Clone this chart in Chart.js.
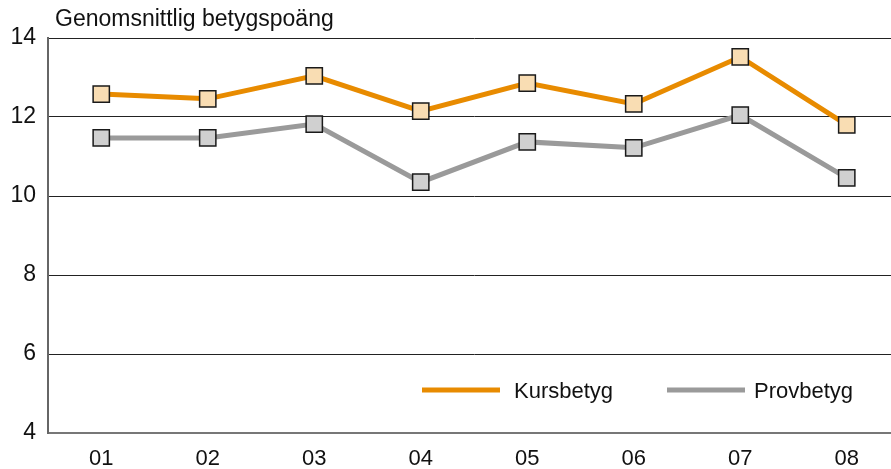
<!DOCTYPE html>
<html>
<head>
<meta charset="utf-8">
<script src="https://cdn.jsdelivr.net/npm/chart.js@4"></script>
<style>
  html, body { margin: 0; padding: 0; background: #fff; overflow: hidden; }
  #wrap { width: 891px; height: 469px; overflow: hidden; }
</style>
</head>
<body>
<div id="wrap"><canvas id="gradesChart" width="913" height="469"></canvas></div>
<script>
const FONT = "'Liberation Sans', Arial, sans-serif";

// data
const categories = ["01", "02", "03", "04", "05", "06", "07", "08"];
const kursbetyg = [12.58, 12.46, 13.04, 12.15, 12.86, 12.33, 13.52, 11.8];
const provbetyg = [11.47, 11.47, 11.82, 10.35, 11.37, 11.22, 12.05, 10.46];
const yTicks = [4, 6, 8, 10, 12, 14];
const axisTitle = "Genomsnittlig betygspoäng";

// title + in-plot legend, drawn on the canvas
const extras = {
    id: "extras",
    afterDraw(chart) {
        const ctx = chart.ctx;
        ctx.save();
        ctx.fillStyle = "#111";
        ctx.font = "23px " + FONT;
        ctx.textBaseline = "middle";
        ctx.textAlign = "left";
        ctx.fillText(axisTitle, 55, 20);

        const spots = [422, 667];
        chart.data.datasets.forEach((ds, i) => {
            const x = spots[i];
            const y = 390;
            ctx.strokeStyle = ds.borderColor;
            ctx.lineWidth = 5;
            ctx.beginPath();
            ctx.moveTo(x, y);
            ctx.lineTo(x + 78, y);
            ctx.stroke();
            ctx.fillStyle = "#111";
            ctx.font = "22px " + FONT;
            ctx.fillText(ds.label, x + (i === 0 ? 92 : 87), y + 2);
        });
        ctx.restore();
    },
};

const ctx = document.getElementById("gradesChart").getContext("2d");
new Chart(ctx, {
    type: "line",
    data: {
        labels: categories,
        datasets: [
            {
                label: "Kursbetyg",
                data: kursbetyg,
                borderColor: "#e88b00",
                borderWidth: 5,
                pointStyle: "rect",
                pointRadius: 11.5,
                pointBackgroundColor: "#f9ddb3",
                pointBorderColor: "#1a1a1a",
                pointBorderWidth: 1.5,
                tension: 0,
            },
            {
                label: "Provbetyg",
                data: provbetyg,
                borderColor: "#9a9a9a",
                borderWidth: 5,
                pointStyle: "rect",
                pointRadius: 11.5,
                pointBackgroundColor: "#d0d0d0",
                pointBorderColor: "#1a1a1a",
                pointBorderWidth: 1.5,
                tension: 0,
            },
        ],
    },
    options: {
        responsive: false,
        animation: false,
        layout: { padding: { top: 38, left: 0, right: 0, bottom: 0 } },
        plugins: {
            legend: { display: false },
            tooltip: { enabled: false },
        },
        scales: {
            x: {
                offset: true,
                grid: { display: false, drawTicks: false },
                border: { color: "#777", width: 2 },
                ticks: {
                    color: "#111",
                    font: { family: FONT, size: 22 },
                    padding: 13,
                    maxRotation: 0,
                },
                afterFit: (scale) => { scale.height = 36; },
            },
            y: {
                min: 4,
                max: 14,
                afterBuildTicks: (scale) => { scale.ticks = yTicks.map((v) => ({ value: v })); },
                grid: { color: "#222", lineWidth: 1, drawTicks: false },
                border: { color: "#666", width: 2 },
                ticks: {
                    color: "#111",
                    font: { family: FONT, size: 23 },
                    padding: 12,
                },
                afterFit: (scale) => { scale.width = 48; },
            },
        },
    },
    plugins: [extras],
});
</script>
</body>
</html>
